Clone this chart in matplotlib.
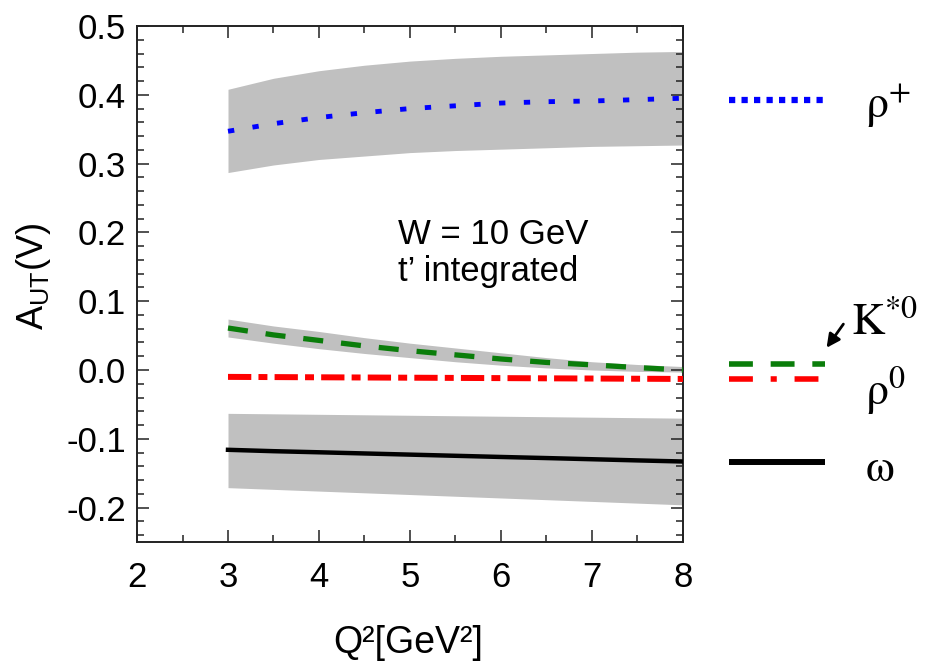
import numpy as np
import matplotlib
matplotlib.use("Agg")
import matplotlib.pyplot as plt
from matplotlib.ticker import MultipleLocator

# ==============================================================================
# DATA
# ==============================================================================
q2 = [3.0, 3.5, 4.0, 4.5, 5.0, 5.5, 6.0, 6.5, 7.0, 7.5, 8.0]

rho_plus = [0.347, 0.358, 0.367, 0.374, 0.380, 0.384, 0.388, 0.390, 0.391, 0.393, 0.395]
rho_plus_hi = [0.408, 0.424, 0.435, 0.443, 0.449, 0.453, 0.456, 0.458, 0.460, 0.462, 0.463]
rho_plus_lo = [0.287, 0.298, 0.306, 0.311, 0.316, 0.319, 0.321, 0.323, 0.325, 0.326, 0.327]

kstar = [0.061, 0.051, 0.043, 0.035, 0.028, 0.022, 0.016, 0.011, 0.0075, 0.0035, 0.000]
kstar_hi = [0.074, 0.064, 0.056, 0.047, 0.039, 0.032, 0.025, 0.018, 0.012, 0.008, 0.005]
kstar_lo = [0.048, 0.039, 0.031, 0.024, 0.018, 0.012, 0.007, 0.003, 0.000, -0.002, -0.003]

rho0 = [-0.010, -0.0103, -0.0106, -0.0109, -0.0112, -0.0115, -0.0118, -0.0121, -0.0124, -0.0127, -0.013]

omega = [-0.116, -0.118, -0.1196, -0.1213, -0.123, -0.1247, -0.1264, -0.128, -0.1297, -0.1314, -0.133]
omega_hi = [-0.063, -0.0637, -0.0644, -0.0651, -0.0658, -0.0665, -0.0672, -0.0679, -0.0686, -0.0693, -0.070]
omega_lo = [-0.171, -0.1735, -0.176, -0.1785, -0.181, -0.1835, -0.186, -0.1885, -0.191, -0.1935, -0.196]

# legend rows (label, y level in data units)
legend_rows = [r"$\mathrm{\rho}^{+}$", r"$\mathrm{K}^{*0}$", r"$\mathrm{\rho}^{0}$", r"$\mathrm{\omega}$"]
legend_y = [0.392, 0.0087, -0.013, -0.134]

BAND = "#c0c0c0"
BLUE = "#0000ff"
GREEN = "#0a7d0a"
RED = "#ff0000"

plt.rcParams["font.family"] = ["Liberation Sans", "DejaVu Sans"]
plt.rcParams["mathtext.fontset"] = "custom"
plt.rcParams["mathtext.rm"] = "Liberation Sans"
plt.rcParams["mathtext.it"] = "Liberation Sans:italic"

fig = plt.figure(figsize=(9.45, 6.7), dpi=100)
ax = fig.add_axes([137 / 945, 128 / 670, 546 / 945, 516 / 670])

# uncertainty bands
ax.fill_between(q2, rho_plus_lo, rho_plus_hi, color=BAND, lw=0, zorder=1)
ax.fill_between(q2, kstar_lo, kstar_hi, color=BAND, lw=0, zorder=1)
ax.fill_between(q2, omega_lo, omega_hi, color=BAND, lw=0, zorder=1)

# central curves
ax.plot(q2, rho_plus, color=BLUE, lw=3.5, dashes=(1.3, 3.8), zorder=3)
ax.plot(q2, kstar, color=GREEN, lw=3.8, dashes=(3.8, 3.4), zorder=3)
ax.plot(q2, rho0, color=RED, lw=4.3, dashes=(3.9, 1.2, 1.5, 1.2), zorder=3)
ax.plot(q2, omega, color="black", lw=3.2, zorder=3)

ax.set_xlim(2, 8)
ax.set_ylim(-0.25, 0.5)
ax.xaxis.set_major_locator(MultipleLocator(1))
ax.xaxis.set_minor_locator(MultipleLocator(0.5))
ax.yaxis.set_major_locator(MultipleLocator(0.1))
ax.yaxis.set_minor_locator(MultipleLocator(0.02))
ax.yaxis.set_major_formatter(matplotlib.ticker.FuncFormatter(
    lambda v, p: f"{v:.1f}".replace("-0.0", "0.0")))
ax.tick_params(which="both", direction="in", top=True, right=True, width=1.1, colors="#222222")
ax.tick_params(which="major", length=8.5, labelsize=25, labelcolor="black")
ax.tick_params(axis="x", which="major", pad=14)
ax.tick_params(axis="y", which="major", pad=8)
ax.tick_params(which="minor", length=5)
for s in ax.spines.values():
    s.set_linewidth(1.4)
    s.set_color("#222222")

ax.set_xlabel("Q\u00b2[GeV\u00b2]", fontsize=27)
ax.xaxis.set_label_coords(0.496, -0.196)
ax.xaxis.label.set_va("center")
ax.set_ylabel(r"A$_{\mathrm{UT}}$(V)", fontsize=26)
ax.yaxis.set_label_coords(-0.19, 0.514)
ax.yaxis.label.set_va("center")

ax.text(4.87, 0.17, "W = 10 GeV\nt\u2019 integrated", fontsize=25, ha="left", va="center",
        linespacing=1.15)

# legend outside the axes, to the right
leg_x = [8.51, 9.56]
styles = [
    dict(color=BLUE, lw=4.5, dashes=(1, 1), solid_capstyle="butt", dash_capstyle="butt"),
    dict(color=GREEN, lw=4.0, dashes=(4.3, 3.2), dash_capstyle="butt"),
    dict(color=RED, lw=4.0, dashes=(4.3, 3.2, 1.1, 3.2), dash_capstyle="butt"),
    dict(color="black", lw=4.3, solid_capstyle="butt"),
]
for yv, st in zip(legend_y, styles):
    ax.plot(leg_x, [yv, yv], clip_on=False, zorder=3, **st)

serif = ["Liberation Serif", "DejaVu Serif"]
lab_kw = dict(fontsize=33, family=serif, clip_on=False, ha="left", va="center",
              math_fontfamily="stix")
ax.text(10.0, 0.383, legend_rows[0], **lab_kw)
ax.text(9.85, 0.068, legend_rows[1], **lab_kw)
ax.text(10.0, -0.031, legend_rows[2], **lab_kw)
ax.text(10.0, -0.145, legend_rows[3], **lab_kw)

ax.annotate("", xy=(9.56, 0.029), xytext=(9.78, 0.07), annotation_clip=False,
            arrowprops=dict(arrowstyle="-|>,head_length=0.8,head_width=0.4",
                            color="black", lw=2.0))

fig.savefig("out.png", dpi=100)
